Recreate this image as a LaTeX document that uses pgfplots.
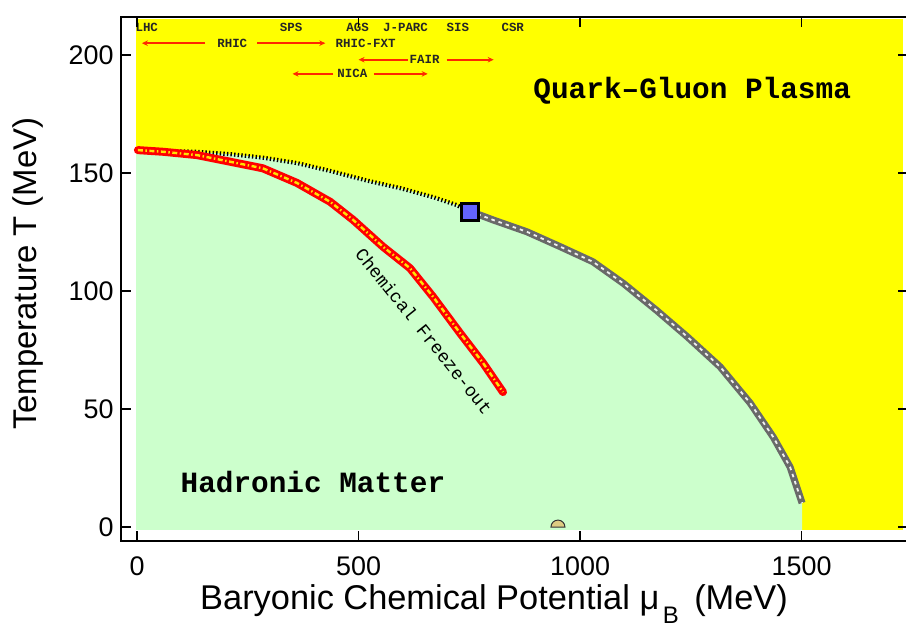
\documentclass[border=0pt]{standalone}
\usepackage{pgfplots}
\pgfplotsset{compat=1.18}
\usepackage{fontspec}
\setmainfont{Liberation Sans}
\newfontfamily\cour{Liberation Mono}
\usetikzlibrary{arrows.meta}
\definecolor{qgp}{RGB}{255,255,0}
\definecolor{had}{RGB}{204,255,204}
\definecolor{cpblue}{RGB}{100,100,255}
\definecolor{tanc}{RGB}{222,204,130}
\definecolor{lgray}{RGB}{105,105,105}
\definecolor{arrred}{RGB}{255,40,0}
\pgfdeclareplotmark{semicirc}{%
  \pgfpathmoveto{\pgfqpoint{\pgfplotmarksize}{0pt}}%
  \pgfpatharc{0}{180}{\pgfplotmarksize}%
  \pgfpathclose
  \pgfusepathqfillstroke}

\pgfplotstableread{
mu T
0 159.5
135 159
210 158
284 156.5
361 154.2
442 150.6
519 146.8
594 143.6
668 139.8
722 136.4
752 133.5
}\crossover

\pgfplotstableread{
mu T
752 133.5
774 132.2
804 130.1
880 125.1
955 118.8
1029 112.4
1098 103.2
1172 91.9
1242 80.6
1316 67.9
1384 52.5
1436 38.1
1474 25.4
1501 10.2
}\firstorder

\pgfplotstableread{
mu T
2 159.7
59 159.0
135 157.6
210 154.8
284 152.0
361 145.8
436 137.8
488 130.1
555 118.8
616 109.7
668 97.6
729 82.2
781 69.5
826 57.2
}\freezeout

\begin{document}
\begin{tikzpicture}
\begin{axis}[
  name=ax, at={(0,0)}, anchor=south west,
  scale only axis, width=787bp, height=524bp,
  xmin=-36.1, xmax=1740, ymin=-5.9, ymax=216.1,
  xtick={0,500,1000,1500}, ytick={0,50,100,150,200},
  minor tick num=0,
  tick align=inside, major tick length=10bp,
  axis on top,
  axis line style={line width=2.6bp},
  every tick/.style={black, line width=1.3bp},
  tick label style={font=\fontsize{27}{30}\selectfont},
  yticklabel style={xshift=-4bp},
  xticklabel style={yshift=-12bp},
  /pgf/number format/assume math mode=true,
  /pgf/number format/1000 sep={},
  xlabel={Baryonic Chemical Potential μ\hspace{0.1em}\raisebox{-0.42em}{\fontsize{24}{24}\selectfont B}\hspace{0.45em}(MeV)},
  ylabel={Temperature T (MeV)},
  every axis x label/.style={at={(axis description cs:0.474,-0.12)}, anchor=center, font=\fontsize{34.5}{38}\selectfont},
  every axis y label/.style={at={(axis description cs:-0.118,0.51)}, anchor=center, rotate=90, font=\fontsize{33}{36}\selectfont},
  clip=true,
]
% QGP background
\addplot[fill=qgp, draw=none] coordinates {(-2,-1.2) (-2,215.3) (1729,215.3) (1729,-1.2)} -- cycle;
% hadronic region
\addplot[fill=had, draw=none] coordinates {
 (-2,-1.2) (-2,159.6) (0,159.5) (135,159) (210,158) (284,156.5) (361,154.2) (442,150.6)
 (519,146.8) (594,143.6) (668,139.8) (722,136.4) (752,133.5) (774,132.2) (804,130.1)
 (880,125.1) (955,118.8) (1029,112.4) (1098,103.2) (1172,91.9) (1242,80.6) (1316,67.9)
 (1384,52.5) (1436,38.1) (1474,25.4) (1501,10.2) (1501,-1.2)} -- cycle;
% crossover
\addplot[black, line width=4.2bp, dash pattern=on 1.4bp off 2.2bp] table[x=mu,y=T] {\crossover};
% first-order line
\addplot[lgray, line width=7bp, line join=round] table[x=mu,y=T] {\firstorder};
\addplot[white!88!gray, line width=1.8bp, dash pattern=on 3.5bp off 4bp] table[x=mu,y=T] {\firstorder};
% freeze-out
\addplot[red, line width=8bp, line join=round, line cap=round] table[x=mu,y=T] {\freezeout};
\addplot[yellow!85!orange, line width=2.4bp, dash pattern=on 5bp off 2.5bp on 1.5bp off 2.5bp] table[x=mu,y=T] {\freezeout};
% critical point
\addplot[only marks, mark=square*, mark size=8.5bp, mark options={fill=cpblue, draw=black, line width=2.8bp}] coordinates {(752,133.5)};
% nuclear liquid-gas point
\addplot[only marks, mark=semicirc, mark size=7bp, mark options={fill=tanc, draw=black!80, line width=1bp}] coordinates {(950,0)};

% region texts
\node[font={\cour\bfseries\fontsize{29.5}{32}\selectfont}] at (axis cs:1253,185) {Quark–Gluon Plasma};
\node[font={\cour\bfseries\fontsize{29.5}{32}\selectfont}] at (axis cs:397,19) {Hadronic Matter};
\node[font={\cour\fontsize{18.2}{20}\selectfont}, rotate=-51.3, text=black] at (axis cs:648,83) {Chemical Freeze-out};

% facility labels
\begin{scope}[every node/.style={font={\cour\bfseries\fontsize{12.5}{14}\selectfont}, text=black!85, inner sep=0pt}]
\node at (axis cs:22,211.6) {LHC};
\node at (axis cs:348,211.6) {SPS};
\node at (axis cs:498,211.6) {AGS};
\node at (axis cs:606,211.6) {J-PARC};
\node at (axis cs:724,211.6) {SIS};
\node at (axis cs:848,211.6) {CSR};
\node at (axis cs:215,205) {RHIC};
\node at (axis cs:516,205) {RHIC-FXT};
\node at (axis cs:649,198) {FAIR};
\node at (axis cs:486,192) {NICA};
\end{scope}
\begin{scope}[arrred, line width=1.6bp, -{Stealth[length=6bp,width=5.5bp]}]
\draw (axis cs:154,205) -- (axis cs:11,205);
\draw (axis cs:271,205) -- (axis cs:425,205);
\draw (axis cs:611,198) -- (axis cs:500,198);
\draw (axis cs:699,198) -- (axis cs:805,198);
\draw (axis cs:443,192) -- (axis cs:351,192);
\draw (axis cs:534,192) -- (axis cs:656,192);
\end{scope}
\end{axis}
\pgfresetboundingbox
\path[use as bounding box] ([shift={(-121bp,-94bp)}]ax.south west) rectangle ([shift={(-2bp,17bp)}]ax.north east);
\end{tikzpicture}
\end{document}
